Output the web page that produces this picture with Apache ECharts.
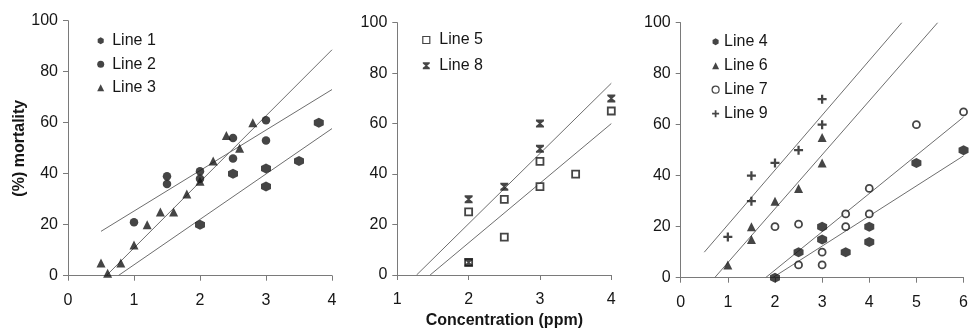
<!DOCTYPE html>
<html><head><meta charset="utf-8">
<script src="https://cdn.jsdelivr.net/npm/echarts@6/dist/echarts.min.js"></script>
<style>html,body{margin:0;padding:0;background:#fff}#c{width:971px;height:334px}</style>
</head><body><div id="c"></div>
<script>
// ---- data (x = concentration ppm, y = % mortality) ----
const line1 = [[2,20],[2.5,40],[3,35],[3,42],[3.5,45],[3.8,60]];
const line2 = [[1,21],[1.5,36],[1.5,39],[2,38],[2,41],[2.5,46],[2.5,54],[3,53],[3,61]];
const line3 = [[0.5,5],[0.6,1],[0.8,5],[1,12],[1.2,20],[1.4,25],[1.6,25],[1.8,32],[2,37],[2.2,45],[2.4,55],[2.6,50],[2.8,60]];
const line5 = [[2,25],[2,5],[2.5,30],[2.5,15],[3,45],[3,35],[3.5,40],[4,65]];
const line8 = [[2,30],[2,5],[2.5,35],[3,60],[3,50],[4,70]];
const line4 = [[2,0],[2.5,10],[3,20],[3,15],[3.5,10],[4,20],[4,14],[5,45],[6,50]];
const line6 = [[1,5],[1.5,20],[1.5,15],[2,30],[2.5,35],[3,55],[3,45]];
const line7 = [[2,20],[2.5,21],[2.5,5],[3,10],[3,5],[3.5,25],[3.5,20],[4,35],[4,25],[5,60],[6,65]];
const line9 = [[1,16],[1.5,40],[1.5,30],[2,45],[2.5,50],[3,70],[3,60]];
// fitted regression lines (end points)
const fit1 = [[0.76,0],[4,57.7]];
const fit2 = [[0.5,17.4],[4,73]];
const fit3 = [[0.58,0],[4,88.6]];
const fit5 = [[1.46,0],[4,60]];
const fit8 = [[1.27,0],[4,76]];
const fit4 = [[1.95,0],[6,47.8]];
const fit6 = [[0.72,0],[5.45,100]];
const fit7 = [[1.8,0],[6,63]];
const fit9 = [[0.5,10],[4.69,100]];
// axis ranges
const xRange1 = [0,4], xRange2 = [1,4], xRange3 = [0,6];
const yRange = [0,100];
const legend1 = ['Line 1','Line 2','Line 3'];
const legend2 = ['Line 5','Line 8'];
const legend3 = ['Line 4','Line 6','Line 7','Line 9'];

const FONT = "'Liberation Sans', Arial, sans-serif";
const INK = '#161616';
const AXIS = '#7a7a7a';
const HEX = 'path://M5,0L9.33,2.5V7.5L5,10L0.67,7.5V2.5Z';
const HOUR = 'path://M0,0H10V2L6.2,5L10,8V10H0V8L3.8,5L0,2Z';
const PLUS = 'path://M3,0H5V3H8V5H5V8H3V5H0V3H3Z';

const chart = echarts.init(document.getElementById('c'), null, {renderer:'canvas'});

function xAxis(idx, r, extra) {
  return Object.assign({
    gridIndex: idx, type: 'value', min: r[0], max: r[1], interval: 1,
    axisLine: {show: true, onZero: false, lineStyle: {color: AXIS, width: 1}},
    axisTick: {show: true, inside: false, length: 5, lineStyle: {color: AXIS}},
    splitLine: {show: false},
    axisLabel: {fontFamily: FONT, fontSize: 16, color: INK, margin: 17}
  }, extra || {});
}
function yAxis(idx, extra) {
  return Object.assign({
    gridIndex: idx, type: 'value', min: yRange[0], max: yRange[1], interval: 20,
    axisLine: {show: true, lineStyle: {color: AXIS, width: 1}},
    axisTick: {show: true, inside: false, length: 5, lineStyle: {color: AXIS}},
    splitLine: {show: false},
    axisLabel: {fontFamily: FONT, fontSize: 16, color: INK, margin: 10}
  }, extra || {});
}
function sc(name, data, idx, symbol, size, style) {
  return {name, type: 'scatter', data, xAxisIndex: idx, yAxisIndex: idx,
    symbol, symbolSize: size, z: 3,
    itemStyle: style || {color: INK}};
}
function fit(data, idx) {
  return {type: 'line', data, xAxisIndex: idx, yAxisIndex: idx, symbol: 'none',
    silent: true, z: 2, lineStyle: {color: '#6e6e6e', width: 1}};
}
const openStyle = {color: '#fff', borderColor: INK, borderWidth: 1.8};
function legend(data, left, top, gap, padLeft) {
  return {data, orient: 'vertical', left, top, itemWidth: 7, itemHeight: 7, itemGap: gap,
    textStyle: {fontFamily: FONT, fontSize: 16, color: INK, lineHeight: 16, padding: [0,0,0,padLeft]},
    itemStyle: {borderWidth: 1.2},
    selectedMode: false};
}

chart.setOption({
  backgroundColor: '#fff',
  animation: false,
  grid: [
    {left: 68, top: 20.7, width: 264, height: 255},
    {left: 397.3, top: 22.7, width: 214, height: 254},
    {left: 680.7, top: 22.7, width: 287.6, height: 255}
  ],
  xAxis: [
    xAxis(0, xRange1),
    xAxis(1, xRange2, {name: 'Concentration (ppm)', nameLocation: 'middle', nameGap: 38,
      nameTextStyle: {fontFamily: FONT, fontSize: 16, fontWeight: 'bold', color: INK}}),
    xAxis(2, xRange3)
  ],
  yAxis: [
    yAxis(0, {name: '(%) mortality', nameLocation: 'middle', nameRotate: 90, nameGap: 37,
      nameTextStyle: {fontFamily: FONT, fontSize: 16, fontWeight: 'bold', color: INK}}),
    yAxis(1), yAxis(2)
  ],
  legend: [
    legend(legend1, 92.2, 27.7, 7.5, 3),
    legend(legend2, 417.2, 27, 9.7, 4.5),
    legend(legend3, 706.5, 28.7, 8, 0)
  ],
  series: [
    fit(fit1, 0), fit(fit2, 0), fit(fit3, 0),
    sc('Line 1', line1, 0, HEX, 10),
    sc('Line 2', line2, 0, 'circle', 8.5),
    sc('Line 3', line3, 0, 'triangle', 9),
    fit(fit5, 1), fit(fit8, 1),
    sc('Line 5', line5, 1, 'rect', 7, openStyle),
    sc('Line 8', line8, 1, HOUR, 8),
    fit(fit4, 2), fit(fit6, 2), fit(fit7, 2), fit(fit9, 2),
    sc('Line 4', line4, 2, HEX, 10),
    sc('Line 6', line6, 2, 'triangle', 9),
    sc('Line 7', line7, 2, 'circle', 7, openStyle),
    sc('Line 9', line9, 2, PLUS, 9)
  ]
});
</script></body></html>
